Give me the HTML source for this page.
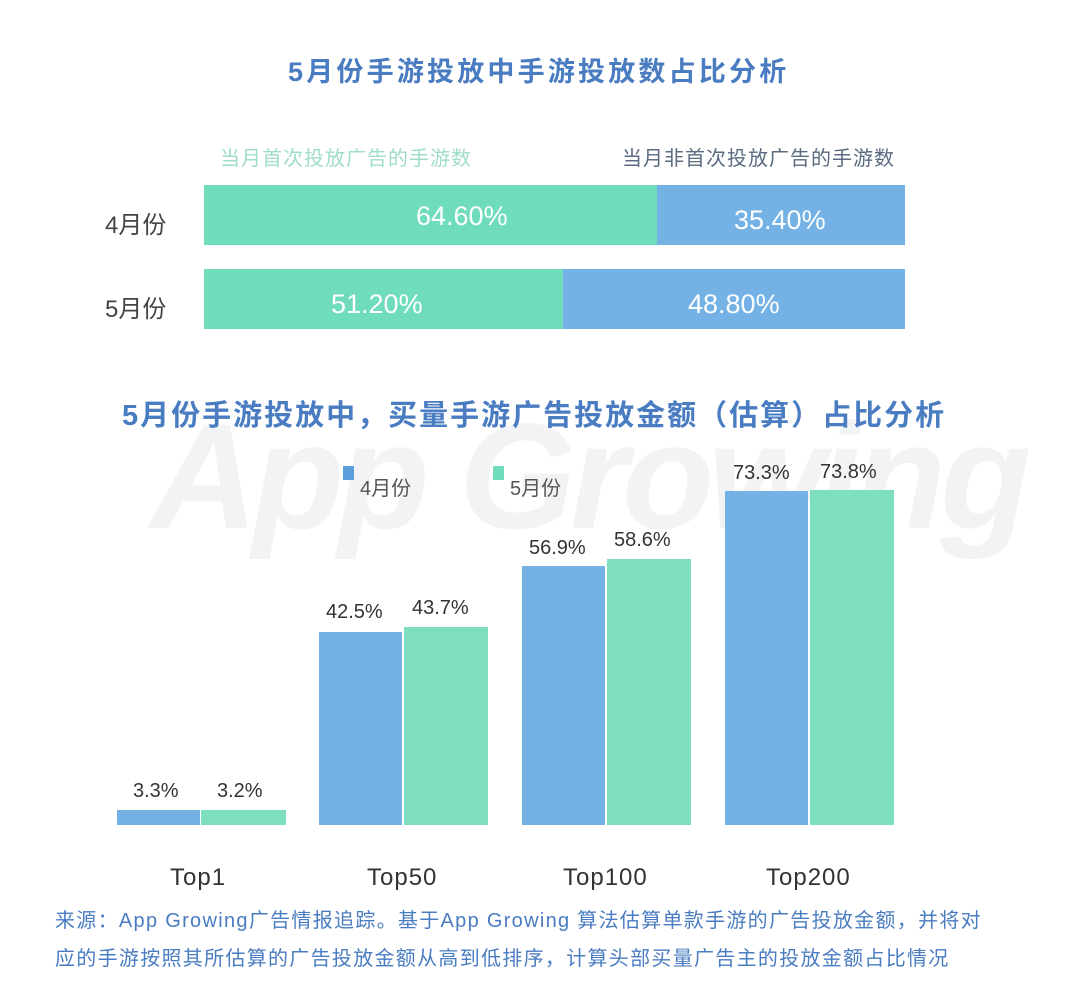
<!DOCTYPE html>
<html><head><meta charset="utf-8"><style>
body{margin:0;width:1080px;height:987px;background:#fff;position:relative;overflow:hidden;font-family:"Liberation Sans","Noto Sans CJK SC",sans-serif;}
.a{position:absolute;white-space:nowrap;}
.t{color:#4a7cc2;font-weight:bold;font-size:27px;}
.b{position:absolute;}
.g{background:#6fdcbb;}
.bl{background:#74b2e6;}
.g2{background:#7ddfc0;}
.v{color:#fff;font-size:27px;}
.l{color:#333;font-size:20px;}
.x{color:#333;font-size:24px;letter-spacing:1px;}
</style></head><body>
<div class="b" style="left:0;top:380px;width:1080px;height:200px;overflow:hidden;">
<div class="a" style="left:150px;top:10px;font-size:150px;font-style:italic;color:#f2f3f5;font-weight:bold;letter-spacing:-6px;">App Growing</div>
</div>
<div class="a t" style="left:288px;top:50px;letter-spacing:3.2px;">5月份手游投放中手游投放数占比分析</div>
<div class="a" style="left:220px;top:142px;font-size:20px;color:#9fdccb;letter-spacing:1px;">当月首次投放广告的手游数</div>
<div class="a" style="left:622px;top:142px;font-size:20px;color:#5a6a80;letter-spacing:1px;">当月非首次投放广告的手游数</div>
<div class="a" style="left:105px;top:205px;font-size:24px;color:#444;">4月份</div>
<div class="a" style="left:105px;top:289px;font-size:24px;color:#444;">5月份</div>
<div class="b g" style="left:204px;top:185px;width:453px;height:60px;"></div>
<div class="b bl" style="left:657px;top:185px;width:248px;height:60px;"></div>
<div class="b g" style="left:204px;top:269px;width:359px;height:60px;"></div>
<div class="b bl" style="left:563px;top:269px;width:342px;height:60px;"></div>
<div class="a v" style="left:416px;top:201px;">64.60%</div>
<div class="a v" style="left:734px;top:205px;">35.40%</div>
<div class="a v" style="left:331px;top:289px;">51.20%</div>
<div class="a v" style="left:688px;top:289px;">48.80%</div>
<div class="a t" style="left:122px;top:392px;letter-spacing:2px;font-size:29px;">5月份手游投放中，买量手游广告投放金额（估算）占比分析</div>
<div class="b" style="left:343px;top:466px;width:11px;height:14px;background:#5a9edc;"></div>
<div class="a l" style="left:360px;top:472px;color:#555;">4月份</div>
<div class="b" style="left:493px;top:466px;width:11px;height:14px;background:#6fdcbb;"></div>
<div class="a l" style="left:510px;top:472px;color:#555;">5月份</div>
<div class="b bl" style="left:117px;top:810px;width:83px;height:15px;"></div>
<div class="b g2" style="left:201px;top:810px;width:85px;height:15px;"></div>
<div class="b bl" style="left:319px;top:632px;width:83px;height:193px;"></div>
<div class="b g2" style="left:404px;top:627px;width:84px;height:198px;"></div>
<div class="b bl" style="left:522px;top:566px;width:83px;height:259px;"></div>
<div class="b g2" style="left:607px;top:559px;width:84px;height:266px;"></div>
<div class="b bl" style="left:725px;top:491px;width:83px;height:334px;"></div>
<div class="b g2" style="left:810px;top:490px;width:84px;height:335px;"></div>
<div class="a l" style="left:133px;top:780px;">3.3%</div>
<div class="a l" style="left:217px;top:780px;">3.2%</div>
<div class="a l" style="left:326px;top:601px;">42.5%</div>
<div class="a l" style="left:412px;top:597px;">43.7%</div>
<div class="a l" style="left:529px;top:537px;">56.9%</div>
<div class="a l" style="left:614px;top:529px;">58.6%</div>
<div class="a l" style="left:733px;top:462px;">73.3%</div>
<div class="a l" style="left:820px;top:461px;">73.8%</div>
<div class="a x" style="left:170px;top:864px;">Top1</div>
<div class="a x" style="left:367px;top:864px;">Top50</div>
<div class="a x" style="left:563px;top:864px;">Top100</div>
<div class="a x" style="left:766px;top:864px;">Top200</div>
<div class="a" style="left:55px;top:902px;font-size:20px;color:#4a7cc2;line-height:38px;letter-spacing:1.3px;">来源：App Growing广告情报追踪。基于App Growing 算法估算单款手游的广告投放金额，并将对<br>应的手游按照其所估算的广告投放金额从高到低排序，计算头部买量广告主的投放金额占比情况</div>
</body></html>
